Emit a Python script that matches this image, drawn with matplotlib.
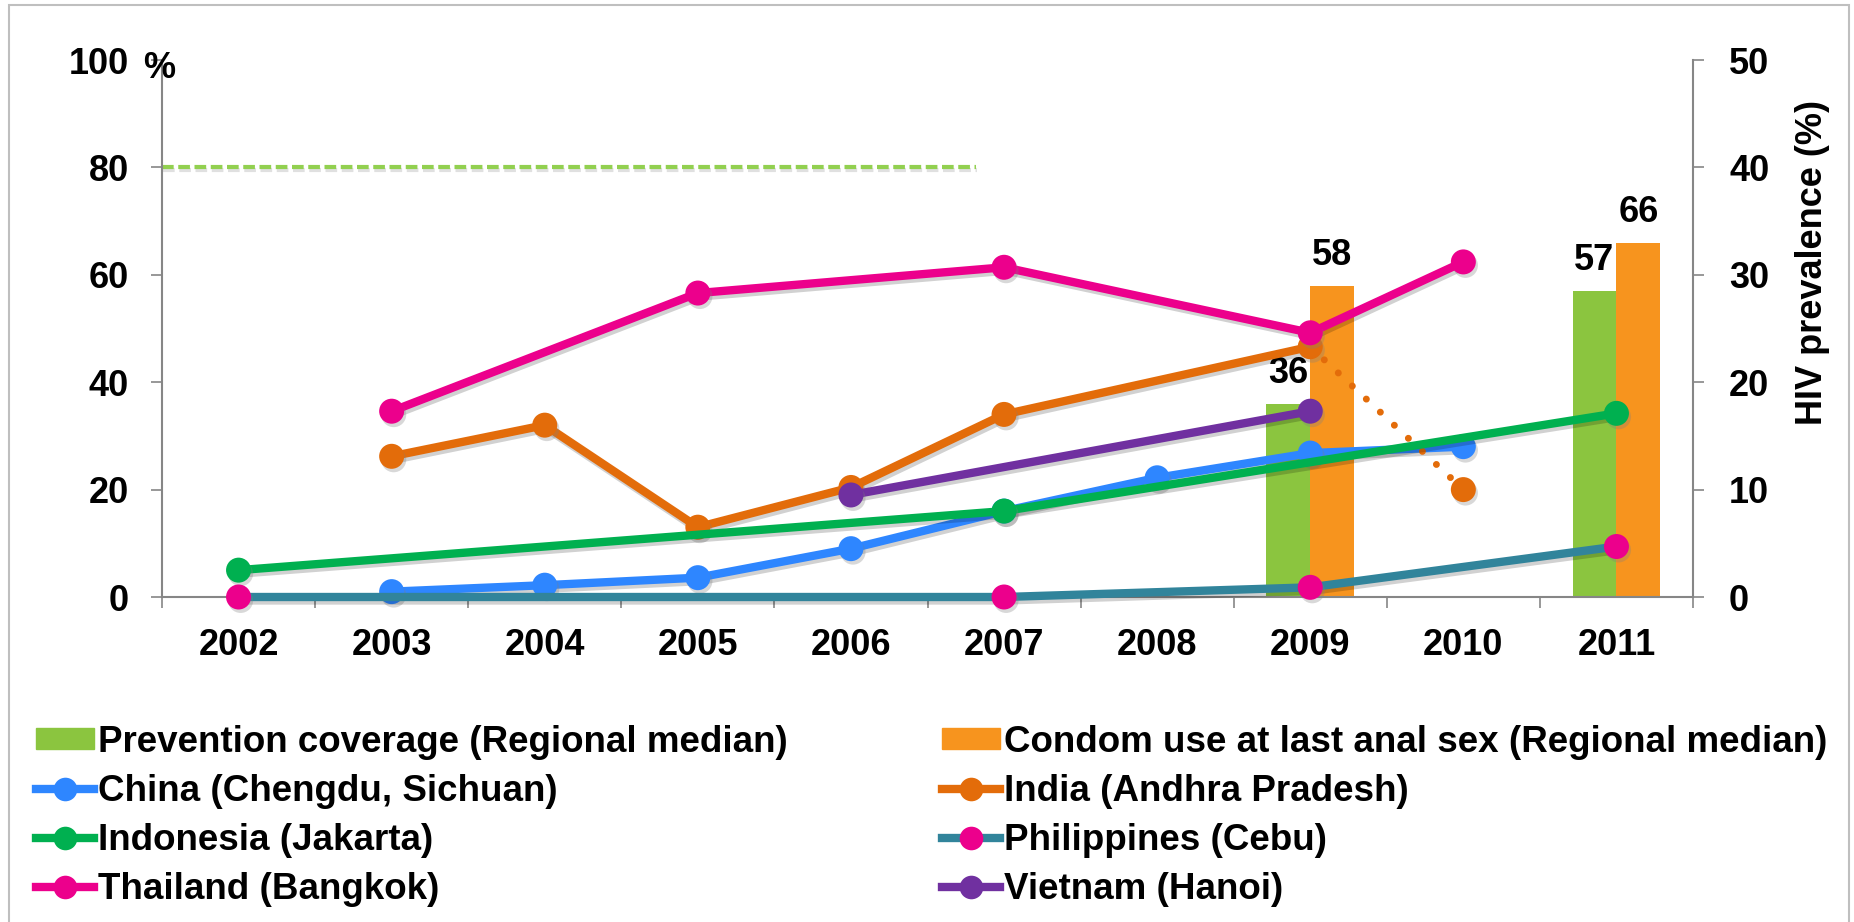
import matplotlib
matplotlib.use("Agg")
import matplotlib.pyplot as plt
import matplotlib.patheffects as pe
from matplotlib.lines import Line2D
from matplotlib.patches import Patch, Rectangle

plt.rcParams['font.family'] = ['Liberation Sans', 'DejaVu Sans']
plt.rcParams['font.weight'] = 'bold'

years = [2002, 2003, 2004, 2005, 2006, 2007, 2008, 2009, 2010, 2011]

# regional medians (left axis, %)
bar_years = [2009, 2011]
prevention = [36, 57]
condom = [58, 66]
target = 80

# HIV prevalence by site (right axis, %)
china_years = [2003, 2004, 2005, 2006, 2007, 2008, 2009, 2010]
china = [0.5, 1.1, 1.8, 4.5, 8.0, 11.1, 13.4, 14.0]
india_years = [2003, 2004, 2005, 2006, 2007, 2009]
india = [13.1, 16.0, 6.5, 10.2, 17.0, 23.3]
india_dotted_years = [2009, 2010]
india_dotted = [23.3, 10.0]
indonesia_years = [2002, 2007, 2011]
indonesia = [2.5, 8.0, 17.1]
phil_years = [2002, 2007, 2009, 2011]
phil = [0, 0, 0.9, 4.7]
thai_years = [2003, 2005, 2007, 2009, 2010]
thai = [17.3, 28.3, 30.7, 24.6, 31.2]
viet_years = [2006, 2009]
viet = [9.5, 17.3]

GREEN_BAR = '#8BC53F'
ORANGE_BAR = '#F7941E'
C_CHINA = '#2E86FF'
C_INDIA = '#E36C0A'
C_INDO = '#00B050'
C_PHIL = '#31849B'
C_PINK = '#EC008C'
C_VIET = '#7030A0'
GRAY = '#868686'

LW = 6
MS = 18

W, H = 1854, 922
fig = plt.figure(figsize=(W / 100, H / 100), dpi=100)
ax = fig.add_axes([162 / W, 1 - 597 / H, (1693 - 162) / W, (597 - 60) / H])
ax2 = ax.twinx()


def idx(ys):
    return [y - 2002 for y in ys]


# bars
bx = idx(bar_years)
ax.bar(bx, prevention, width=-0.287, align='edge', color=GREEN_BAR, zorder=2)
ax.bar(bx, condom, width=0.287, align='edge', color=ORANGE_BAR, zorder=2)
for x, v in zip(bx, prevention):
    ax.annotate(str(v), (x - 0.1435, v), xytext=(0, 15), textcoords='offset points',
                ha='center', va='baseline', fontsize=26, fontweight='bold')
for x, v in zip(bx, condom):
    ax.annotate(str(v), (x + 0.1435, v), xytext=(0, 15), textcoords='offset points',
                ha='center', va='baseline', fontsize=26, fontweight='bold')

# 80% target
ax.plot([-0.5, 4.82], [target, target], color='#92D050', lw=3, dashes=(2.8, 1.1),
        path_effects=[pe.SimpleLineShadow(offset=(0.5, -2), alpha=0.12), pe.Normal()])

line_fx = [pe.SimpleLineShadow(offset=(1.5, -2.5), alpha=0.18), pe.Normal()]
mark_fx = [pe.SimplePatchShadow(offset=(1.5, -2.5), shadow_rgbFace='gray', alpha=0.3), pe.Normal()]


def series(xs, ys, color, mcolor=None, ls='-'):
    ax2.plot(idx(xs), ys, color=color, lw=LW, ls=ls, solid_capstyle='round',
             path_effects=line_fx, clip_on=False)
    ax2.plot(idx(xs), ys, ls='none', marker='o', ms=MS, mec='none',
             mfc=mcolor or color, path_effects=mark_fx, clip_on=False)


series(china_years, china, C_CHINA)
series(india_years, india, C_INDIA)
ax2.plot(idx(india_dotted_years), india_dotted, color=C_INDIA, lw=5,
         linestyle=(0, (0.01, 2.75)), dash_capstyle='round')
ax2.plot(idx(india_dotted_years[1:]), india_dotted[1:], ls='none', marker='o', ms=MS,
         mec='none', mfc=C_INDIA, path_effects=mark_fx)
series(indonesia_years, indonesia, C_INDO)
series(phil_years, phil, C_PHIL, C_PINK)
series(thai_years, thai, C_PINK)
series(viet_years, viet, C_VIET)

# axes styling
ax.set_xlim(-0.5, 9.5)
ax.set_ylim(0, 100)
ax2.set_ylim(0, 50)
ax.set_xticks(range(10))
ax.set_xticklabels([str(y) for y in years])
ax.set_xticks([i - 0.5 for i in range(11)], minor=True)
ax.tick_params(axis='x', which='major', length=0, pad=22, labelsize=26)
ax.tick_params(axis='x', which='minor', length=8, width=1.2, color=GRAY)
ax.set_yticks(range(0, 101, 20))
ax.set_yticklabels(['0', '20', '40', '60', '80', '100'])
ax.tick_params(axis='y', length=8, width=1.2, color=GRAY, pad=16, labelsize=26)
ax2.set_yticks(range(0, 51, 10))
ax2.tick_params(axis='y', length=8, width=1.2, color=GRAY, pad=18, labelsize=26)
for s in ['top', 'right']:
    ax.spines[s].set_visible(False)
for s in ['left', 'bottom']:
    ax.spines[s].set_color(GRAY)
    ax.spines[s].set_linewidth(1.5)
for s in ['top', 'left', 'bottom']:
    ax2.spines[s].set_visible(False)
ax2.spines['right'].set_color(GRAY)
ax2.spines['right'].set_linewidth(1.5)

fig.text(143 / W, 1 - 68 / H, '%', fontsize=26, fontweight='bold', ha='left', va='center')
fig.text(1812 / W, 1 - 262 / H, 'HIV prevalence (%)', rotation=90, fontsize=26,
         fontweight='bold', ha='center', va='center')

# legend
def lh(color, mcolor=None):
    return Line2D([], [], color=color, lw=LW, marker='o', ms=MS - 1, mec='none', mfc=mcolor or color)


handles = [Patch(color=GREEN_BAR), lh(C_CHINA), lh(C_INDO), lh(C_PINK),
           Patch(color=ORANGE_BAR), lh(C_INDIA), lh(C_PHIL, C_PINK), lh(C_VIET)]
labels = ['Prevention coverage (Regional median)', 'China (Chengdu, Sichuan)',
          'Indonesia (Jakarta)', 'Thailand (Bangkok)',
          'Condom use at last anal sex (Regional median)', 'India (Andhra Pradesh)',
          'Philippines (Cebu)', 'Vietnam (Hanoi)']
fig.legend(handles, labels, ncol=2, loc='upper left', bbox_to_anchor=(36 / W, 1 - 725 / H),
           frameon=False, fontsize=26.5, handlelength=1.58, handletextpad=0.1,
           columnspacing=4.2, labelspacing=0.38, borderpad=0, borderaxespad=0,
           handleheight=0.5)

fig.add_artist(Rectangle((9 / W, -0.05), (1849 - 9) / W, 1.05 - 5 / H, transform=fig.transFigure,
                         fill=False, ec='#BFBFBF', lw=1.5))

fig.savefig('out.png', dpi=100)
